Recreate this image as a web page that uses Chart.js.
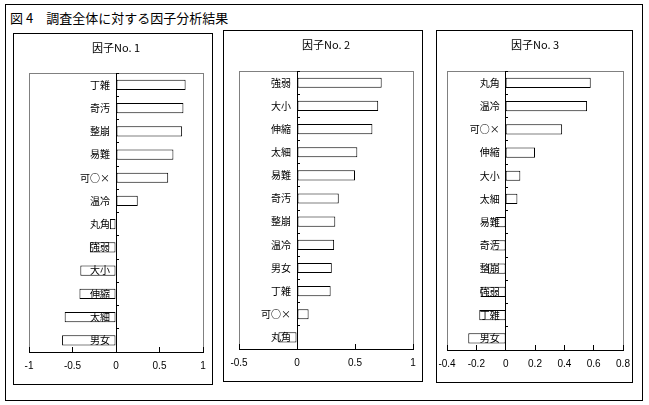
<!DOCTYPE html>
<html>
<head>
<meta charset="utf-8">
<script src="https://cdn.jsdelivr.net/npm/chart.js@4"></script>
<style>
  body { margin: 0; background: #fff; }
  #page { position: relative; width: 649px; height: 405px; }
  #frame { position: absolute; left: 5px; top: 4px; width: 638px; height: 397px; border: 1px solid #000; box-sizing: border-box; }
  #title { position: absolute; left: 10px; top: 8px; font: 13px "Noto Sans CJK JP", sans-serif; color: #000; white-space: pre; }
  .panel { position: absolute; border: 1px solid #000; box-sizing: border-box; }
</style>
</head>
<body>
<div id="page">
  <div id="frame"></div>
  <div id="title">図 4　調査全体に対する因子分析結果</div>
  <div class="panel" id="p1" style="left:13px;top:33px;width:200px;height:352px;"><canvas id="c1"></canvas></div>
  <div class="panel" id="p2" style="left:223px;top:30px;width:200px;height:352px;"><canvas id="c2"></canvas></div>
  <div class="panel" id="p3" style="left:436px;top:30px;width:197px;height:353px;"><canvas id="c3"></canvas></div>
</div>
<script>
// factor loadings (top to bottom)
const categories1 = ["丁雑", "奇汚", "整崩", "易難", "可○×", "温冷", "丸角", "強弱", "大小", "伸縮", "太細", "男女"];
const values1 = [0.80, 0.775, 0.76, 0.66, 0.60, 0.25, -0.07, -0.30, -0.41, -0.42, -0.59, -0.62];

const categories2 = ["強弱", "大小", "伸縮", "太細", "易難", "奇汚", "整崩", "温冷", "男女", "丁雑", "可○×", "丸角"];
const values2 = [0.73, 0.70, 0.65, 0.52, 0.50, 0.36, 0.33, 0.32, 0.30, 0.29, 0.10, -0.16];

const categories3 = ["丸角", "温冷", "可○×", "伸縮", "大小", "太細", "易難", "奇汚", "整崩", "強弱", "丁雑", "男女"];
const values3 = [0.58, 0.555, 0.385, 0.20, 0.10, 0.08, -0.07, -0.09, -0.12, -0.17, -0.18, -0.255];

const titles = ["因子No. 1", "因子No. 2", "因子No. 3"];
const axisMin = [-1, -0.5, -0.4];
const axisMax = [1, 1, 0.8];
const axisStep = [0.5, 0.5, 0.2];

// gray frame round the plot area
const plotFrame = {
  id: "plotFrame",
  beforeDraw(chart) {
    const a = chart.chartArea;
    const ctx = chart.ctx;
    ctx.save();
    ctx.strokeStyle = "#808080";
    ctx.lineWidth = 1;
    ctx.strokeRect(Math.round(a.left) + 0.5, Math.round(a.top) + 0.5, Math.round(a.right - a.left), Math.round(a.bottom - a.top));
    ctx.restore();
  }
};

// category labels sit next to the zero line; push them a little left of it
const labelGap = {
  id: "labelGap",
  beforeDraw(chart) {
    const items = chart.scales.y.getLabelItems();
    if (items._shifted) return;
    items.forEach(it => { it.options.translation[0] -= 6; });
    items._shifted = true;
  }
};

function makeChart(id, i, labels, values, padLeft, padTop) {
  return new Chart(document.getElementById(id), {
    type: "bar",
    data: {
      labels: labels,
      datasets: [{
        data: values,
        backgroundColor: "#fff",
        borderColor: "#000",
        borderWidth: 1,
        borderSkipped: false,
        categoryPercentage: 1,
        barPercentage: 0.44
      }]
    },
    options: {
      indexAxis: "y",
      responsive: true,
      maintainAspectRatio: false,
      animation: false,
      layout: { padding: { left: padLeft, right: 9, top: 0, bottom: 0 } },
      plugins: {
        legend: { display: false },
        tooltip: { enabled: false },
        title: {
          display: true,
          text: titles[i],
          color: "#000",
          font: { family: "Noto Sans CJK JP", size: 11, weight: "normal" },
          padding: { top: 7, bottom: padTop - 20 }
        }
      },
      scales: {
        x: {
          min: axisMin[i],
          max: axisMax[i],
          afterFit: s => { s.height = 32; s.paddingLeft = 0; s.paddingRight = 0; },
          border: { color: "#000", width: 1 },
          grid: { drawOnChartArea: false, drawTicks: true, tickLength: -5, color: "#000" },
          ticks: {
            stepSize: axisStep[i],
            padding: 13,
            color: "#000",
            font: { family: "Liberation Sans", size: 10 },
            callback: v => String(+Number(v).toFixed(1))
          }
        },
        y: {
          position: { x: 0 },
          border: { color: "#000", width: 1, z: 1 },
          grid: { offset: true, drawOnChartArea: false, drawTicks: true, tickLength: -3, color: "#000", z: 1 },
          ticks: {
            z: 1,
            color: "#000",
            font: { family: "Noto Sans CJK JP", size: 10 }
          }
        }
      }
    },
    plugins: [plotFrame, labelGap]
  });
}

makeChart("c1", 0, categories1, values1, 15, 39);
makeChart("c2", 1, categories2, values2, 15, 40);
makeChart("c3", 2, categories3, values3, 10, 40);
</script>
</body>
</html>
